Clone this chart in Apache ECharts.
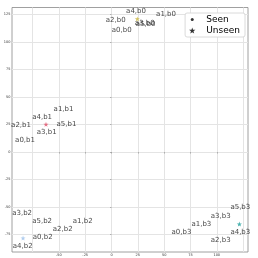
<!DOCTYPE html>
<html><head><meta charset="utf-8">
<script src="https://cdn.jsdelivr.net/npm/echarts@6/dist/echarts.min.js"></script>
<style>html,body{margin:0;padding:0;background:#fff}#c{width:258px;height:258px}</style>
</head><body><div id="c"></div>
<script>
// Seen points (label text, x, y)
var seenLabels = ['a4,b0','a2,b0','a3,b0','a5,b0','a0,b0','a1,b0',
  'a1,b1','a4,b1','a5,b1','a2,b1','a3,b1','a0,b1',
  'a3,b2','a5,b2','a1,b2','a2,b2','a0,b2','a4,b2',
  'a5,b3','a3,b3','a1,b3','a4,b3','a0,b3','a2,b3'];
var seenX = [23.3, 4.0, 31.6, 32.4, 9.7, 51.8,
  -45.6, -66.0, -42.8, -86.0, -61.6, -82.2,
  -85.0, -66.0, -27.4, -46.4, -65.4, -84.4,
  122.4, 103.8, 85.4, 122.4, 66.4, 103.8];
var seenY = [127.7, 120.0, 117.0, 116.6, 111.0, 125.5,
  38.8, 32.0, 25.2, 24.5, 17.9, 10.9,
  -55.5, -63.0, -63.0, -70.6, -77.5, -85.7,
  -50.3, -58.5, -65.5, -73.0, -73.0, -80.3];
// Unseen (cluster centres)
var unseenX = [24.5, -62.3, -84.1, 121.5];
var unseenY = [121.0, 25.2, -78.2, -65.5];
var unseenColors = ['#c8b43a', '#e0506a', '#9ec0ea', '#1a9e9a'];
// Ticks
var xTicks = [-75, -50, -25, 0, 25, 50, 75, 100, 125];
var yTicks = [-75, -50, -25, 0, 25, 50, 75, 100, 125];

var star = 'path://M0,-10 L2.35,-3.24 L9.51,-3.09 L3.8,1.24 L5.88,8.09 L0,4 L-5.88,8.09 L-3.8,1.24 L-9.51,-3.09 L-2.35,-3.24 Z';
var dotIcon = 'path://M-10,-10 L-10,-10 M10,10 L10,10 M5,0 A5,5 0 1 1 -5,0 A5,5 0 1 1 5,0 Z';
var font = 'DejaVu Sans';

var seenData = seenX.map(function (x, i) { return { value: [x, seenY[i]], name: seenLabels[i] }; });
var unseenData = unseenX.map(function (x, i) { return { value: [x, unseenY[i]], itemStyle: { color: unseenColors[i] } }; });

var chart = echarts.init(document.getElementById('c'), null, { renderer: 'canvas' });
chart.setOption({
  animation: false,
  backgroundColor: '#fff',
  grid: { left: 12, right: 10, top: 7.5, bottom: 6, show: true, borderColor: '#888', borderWidth: 0.8, backgroundColor: 'transparent' },
  xAxis: {
    type: 'value', min: -94.6, max: 129.7,
    axisLine: { show: false },
    splitLine: { show: true, lineStyle: { color: '#e4e4e4', width: 1, type: 'solid' } },
    axisTick: { show: true, customValues: xTicks, length: 1.5, lineStyle: { color: '#888', width: 0.6 } },
    axisLabel: { customValues: xTicks, fontSize: 3.5, color: '#333', margin: 1, fontFamily: font, showMinLabel: false, showMaxLabel: false }
  },
  yAxis: {
    type: 'value', min: -90.9, max: 131.4,
    axisLine: { show: false },
    splitLine: { show: true, lineStyle: { color: '#e4e4e4', width: 1, type: 'solid' } },
    axisTick: { show: true, customValues: yTicks, length: 1.5, lineStyle: { color: '#888', width: 0.6 } },
    axisLabel: { customValues: yTicks, fontSize: 3.5, color: '#333', margin: 1.5, fontFamily: font }
  },
  legend: {
    orient: 'vertical', right: 13, top: 13,
    backgroundColor: '#fff', borderColor: '#d0d0d0', borderWidth: 0.8, borderRadius: 2,
    padding: [2, 5, 2, 4], itemGap: 2, itemWidth: 18, itemHeight: 6,
    textStyle: { fontSize: 9, color: '#000', fontFamily: font },
    data: [{ name: 'Seen', icon: dotIcon, itemStyle: { color: '#000' } }, { name: 'Unseen', icon: star, itemStyle: { color: '#000' } }]
  },
  series: [
    {
      name: 'Seen', type: 'scatter', symbol: 'circle', symbolSize: 0.01,
      itemStyle: { color: '#000' },
      data: seenData,
      label: { show: true, position: 'inside', formatter: '{b}', fontSize: 7, color: '#111', fontFamily: font },
      z: 3
    },
    {
      name: 'Unseen', type: 'scatter', symbol: star, symbolSize: 5,
      itemStyle: { color: '#000' },
      data: unseenData, z: 4
    }
  ]
});
</script></body></html>
